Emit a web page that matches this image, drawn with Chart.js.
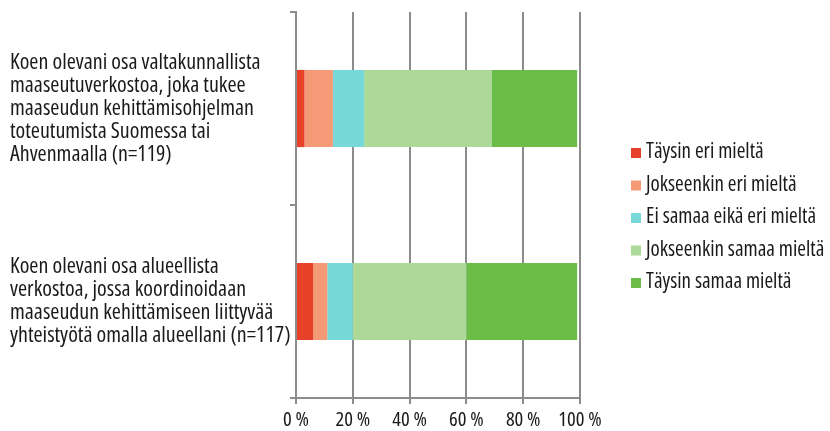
<!DOCTYPE html>
<html>
<head>
<meta charset="utf-8">
<script src="https://cdn.jsdelivr.net/npm/chart.js@4"></script>
<style>
  html, body { margin: 0; padding: 0; background: #fff; }
  #wrap { width: 830px; height: 431px; }
</style>
</head>
<body>
<div id="wrap"><canvas id="kuvio"></canvas></div>
<script>
const categories = [
  ["Koen olevani osa valtakunnallista", "maaseutuverkostoa, joka tukee", "maaseudun kehittämisohjelman", "toteutumista Suomessa tai", "Ahvenmaalla (n=119)"],
  ["Koen olevani osa alueellista", "verkostoa, jossa koordinoidaan", "maaseudun kehittämiseen liittyvää", "yhteistyötä omalla alueellani (n=117)"]
];
const seriesNames = ["Täysin eri mieltä", "Jokseenkin eri mieltä", "Ei samaa eikä eri mieltä", "Jokseenkin samaa mieltä", "Täysin samaa mieltä"];
const taysinEri = [3, 6];
const jokseenkinEri = [10, 5];
const eiSamaaEikaEri = [11, 9];
const jokseenkinSamaa = [45, 40];
const taysinSamaa = [30, 39];
const xTicks = [0, 20, 40, 60, 80, 100];

const colors = ["#e8412a", "#f59a77", "#76d8d8", "#acd998", "#6cbd48"];
const values = [taysinEri, jokseenkinEri, eiSamaaEikaEri, jokseenkinSamaa, taysinSamaa];
const gray = "#8c8c8c";
const family = "'Open Sans', sans-serif";

Chart.defaults.font.family = family;
Chart.defaults.font.weight = "condensed";
Chart.defaults.font.size = 20;
Chart.defaults.color = "#1a1a1a";

// legend drawn by hand, to the right of the plot
const sideLegend = {
  id: "sideLegend",
  afterDraw(chart) {
    const ctx = chart.ctx;
    const x = chart.chartArea.right + 51;
    const yMid = (chart.chartArea.top + chart.chartArea.bottom) / 2;
    const step = 32.5;
    ctx.save();
    ctx.font = "condensed 21px " + family;
    ctx.textBaseline = "alphabetic";
    chart.data.datasets.forEach((ds, i) => {
      const base = yMid + 18 + (i - 2) * step;
      ctx.fillStyle = ds.backgroundColor;
      ctx.fillRect(x, base - 10, 10, 10);
      ctx.fillStyle = "#1a1a1a";
      ctx.fillText(ds.label, x + 15, base);
    });
    ctx.restore();
  },
};

new Chart(document.getElementById("kuvio"), {
  type: "bar",
  data: {
    labels: categories,
    datasets: seriesNames.map((name, i) => ({
      label: name,
      data: values[i],
      backgroundColor: colors[i],
      borderWidth: 0,
      barPercentage: 0.4,
      categoryPercentage: 1,
    })),
  },
  options: {
    indexAxis: "y",
    responsive: true,
    maintainAspectRatio: false,
    animation: false,
    layout: { padding: { left: 10, top: 12, right: 250, bottom: 0 } },
    plugins: {
      tooltip: { enabled: false },
      legend: { display: false },
    },
    scales: {
      x: {
        stacked: true,
        min: 0,
        max: 100,
        afterBuildTicks: (s) => { s.ticks = xTicks.map((v) => ({ value: v })); },
        afterFit: (s) => { s.height = 33; s.paddingLeft = 0; s.paddingRight = 0; },
        grid: { color: gray, lineWidth: 2, tickLength: 6 },
        border: { color: gray, width: 2 },
        ticks: { padding: 4, font: { size: 20.5 }, callback: (v) => v + " %" },
      },
      y: {
        stacked: true,
        afterFit: (s) => { s.width = 286; s.paddingTop = 0; s.paddingBottom = 0; },
        grid: { drawOnChartArea: false, color: gray, lineWidth: 2, tickLength: 6 },
        border: { color: gray, width: 2 },
        ticks: { crossAlign: "far", padding: 4, font: { size: 22, lineHeight: 1.05 } },
      },
    },
  },
  plugins: [sideLegend],
});
</script>
</body>
</html>
